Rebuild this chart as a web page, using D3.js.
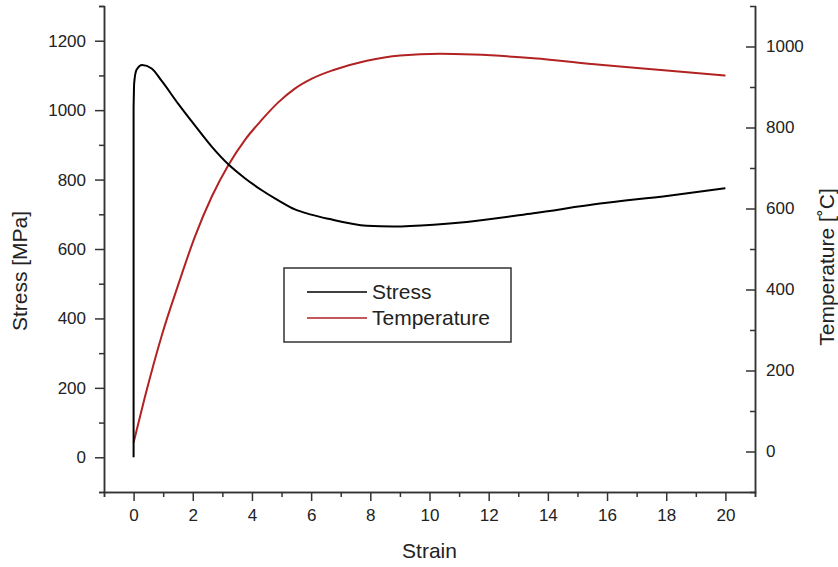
<!DOCTYPE html>
<html>
<head>
<meta charset="utf-8">
<script src="https://cdn.jsdelivr.net/npm/d3@7"></script>
<style>
  body { margin: 0; background: #fff; }
  text { font-family: "Liberation Sans", Arial, sans-serif; fill: #222; }
</style>
</head>
<body>
<div id="chart"></div>
<script>
// values
const strainStress = [0, 0, 0.02, 0.1, 0.29, 0.61, 0.95, 1.51, 2.07, 2.64, 3.2, 3.76, 4.32, 4.89, 5.45, 6.0, 6.58, 7.88, 8.78, 10.14, 11.26, 13.51, 15.76, 18.02, 20.0];
const stress = [0, 1006, 1078, 1116, 1130, 1120, 1084, 1018, 956, 895, 844, 804, 770, 740, 714, 699, 687, 667, 665, 670, 678, 703, 731, 753, 775];

const strainTemp = [0, 0.38, 0.95, 1.51, 2.07, 2.64, 3.2, 3.76, 4.32, 4.89, 5.45, 6.01, 6.76, 7.88, 9.01, 10.36, 11.49, 13.51, 15.76, 18.02, 20.0];
const temperature = [22, 134, 286, 412, 530, 629, 707, 769, 818, 862, 896, 920, 942, 965, 978, 982, 980, 971, 955, 941, 928];

const xTicks = [0, 2, 4, 6, 8, 10, 12, 14, 16, 18, 20];
const stressTicks = [0, 200, 400, 600, 800, 1000, 1200];
const tempTicks = [0, 200, 400, 600, 800, 1000];
const seriesNames = ["Stress", "Temperature"];
const seriesColors = ["#000000", "#b22222"];

// size and margins
const W = 838, H = 567;
const margin = {top: 6, right: 83, bottom: 75, left: 104};
const width = W - margin.left - margin.right;
const height = H - margin.top - margin.bottom;

const svg = d3.select("#chart").append("svg")
    .attr("width", W)
    .attr("height", H);
const g = svg.append("g")
    .attr("transform", `translate(${margin.left},${margin.top})`);

// scales
const x = d3.scaleLinear().domain([-1, 21]).range([0, width]);
const yS = d3.scaleLinear().domain([-100, 1300]).range([height, 0]);
const yT = d3.scaleLinear().domain([-100, 1100]).range([height, 0]);
const fmt = d3.format("d");

function styleAxis(sel) {
    sel.select(".domain").attr("stroke", "#333").attr("stroke-width", 1.5);
    sel.selectAll(".tick line").attr("stroke", "#333").attr("stroke-width", 1.5);
    sel.selectAll(".tick text").style("font-size", "17px").attr("fill", "#222");
}

// minor ticks first
g.append("g").attr("transform", `translate(0,${height})`)
    .call(d3.axisBottom(x).tickValues(d3.range(-1, 22, 2)).tickSize(5).tickFormat(""))
    .call(styleAxis);
g.append("g")
    .call(d3.axisLeft(yS).tickValues(d3.range(-100, 1301, 200)).tickSize(5).tickFormat(""))
    .call(styleAxis);
g.append("g").attr("transform", `translate(${width},0)`)
    .call(d3.axisRight(yT).tickValues(d3.range(100, 1000, 200)).tickSize(-5).tickFormat(""))
    .call(styleAxis);

// major ticks
g.append("g").attr("transform", `translate(0,${height})`)
    .call(d3.axisBottom(x).tickValues(xTicks).tickFormat(fmt).tickSize(9).tickPadding(8).tickSizeOuter(0))
    .call(styleAxis);
g.append("g")
    .call(d3.axisLeft(yS).tickValues(stressTicks).tickFormat(fmt).tickSize(9).tickPadding(9).tickSizeOuter(0))
    .call(styleAxis);
g.append("g").attr("transform", `translate(${width},0)`)
    .call(d3.axisRight(yT).tickValues(tempTicks).tickFormat(fmt).tickSize(-9).tickPadding(11).tickSizeOuter(0))
    .call(styleAxis);

// axis titles
g.append("text")
    .attr("x", width / 2).attr("y", height + 66)
    .attr("text-anchor", "middle")
    .style("font-size", "21px")
    .text("Strain");
g.append("text")
    .attr("transform", `translate(${-77},${265}) rotate(-90)`)
    .attr("text-anchor", "middle")
    .style("font-size", "21px")
    .text("Stress [MPa]");
g.append("text")
    .attr("transform", `translate(${width + 79},${261}) rotate(-90)`)
    .attr("text-anchor", "middle")
    .style("font-size", "21px")
    .text("Temperature [˚C]");

// lines: the stress jump at strain 0 is drawn straight, the rest smoothed
const idx = d3.range(stress.length);
const stressJump = d3.line()
    .x(i => x(strainStress[i]))
    .y(i => yS(stress[i]));
const stressLine = d3.line()
    .x(i => x(strainStress[i]))
    .y(i => yS(stress[i]))
    .curve(d3.curveMonotoneX);
const tempLine = d3.line()
    .x((d, i) => x(strainTemp[i]))
    .y(d => yT(d))
    .curve(d3.curveMonotoneX);

g.append("path").datum(temperature)
    .attr("fill", "none")
    .attr("stroke", seriesColors[1])
    .attr("stroke-width", 2)
    .attr("d", tempLine);
g.append("path").datum(idx.slice(0, 2))
    .attr("fill", "none")
    .attr("stroke", seriesColors[0])
    .attr("stroke-width", 2)
    .attr("d", stressJump);
g.append("path").datum(idx.slice(1))
    .attr("fill", "none")
    .attr("stroke", seriesColors[0])
    .attr("stroke-width", 2)
    .attr("d", stressLine);

// legend
const legend = svg.append("g").attr("transform", "translate(284,268)");
legend.append("rect")
    .attr("width", 227).attr("height", 74)
    .attr("fill", "#fff")
    .attr("stroke", "#333")
    .attr("stroke-width", 1.5);
seriesNames.forEach((name, i) => {
    const yy = 24 + i * 26;
    legend.append("line")
        .attr("x1", 23).attr("x2", 83)
        .attr("y1", yy).attr("y2", yy)
        .attr("stroke", seriesColors[i])
        .attr("stroke-width", 1.5);
    legend.append("text")
        .attr("x", 88).attr("y", yy + 7)
        .style("font-size", "21px")
        .text(name);
});
</script>
</body>
</html>
